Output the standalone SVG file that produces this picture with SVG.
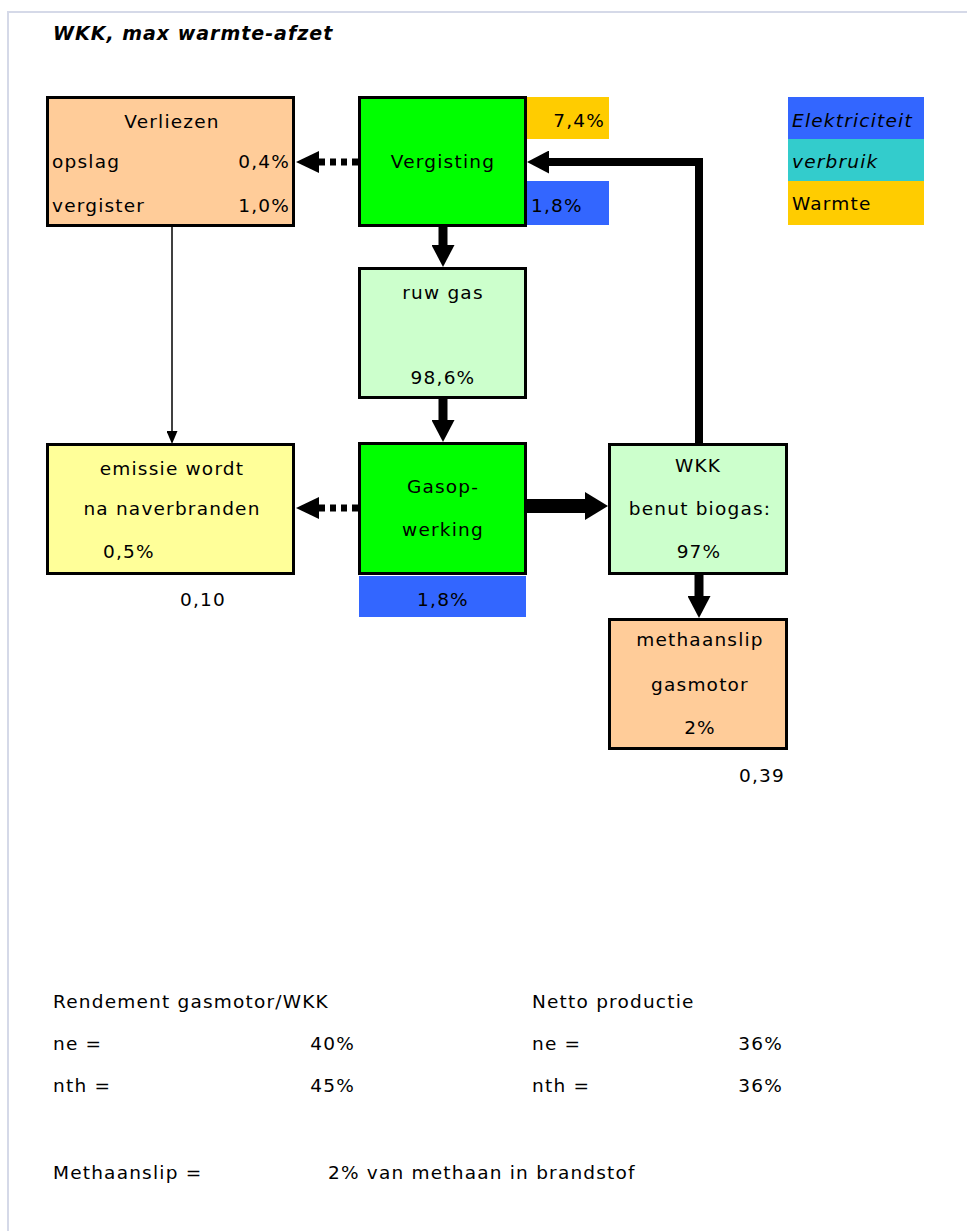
<svg xmlns="http://www.w3.org/2000/svg" width="967" height="1231" viewBox="0 0 967 1231">
<style>
  text { font-family: "DejaVu Sans", "Liberation Sans", sans-serif; font-size: 18.5px; fill: #000; letter-spacing: 1.2px; }
  .c { text-anchor: middle; }
  .r { text-anchor: end; }
  .i { font-style: italic; }
  .title { font-weight: bold; font-style: italic; font-size: 19px; letter-spacing: 1px; }
  .box { stroke: #000; stroke-width: 3; }
  .peach { fill: #FFCC99; }
  .green { fill: #00FF00; }
  .lgreen { fill: #CCFFCC; }
  .yellow { fill: #FFFF99; }
  .orange { fill: #FFCC00; }
  .blue { fill: #3366FF; }
  .teal { fill: #33CCCC; }
  .arrow { fill: none; stroke: #000; stroke-linejoin: miter; }
  .dot { stroke-width: 7; stroke-dasharray: 6 5; }
</style>
<defs>
  <marker id="ahM" markerUnits="userSpaceOnUse" markerWidth="22" markerHeight="23" viewBox="0 0 22 23" refX="0" refY="11.5" orient="auto">
    <path d="M0,0 L22,11.5 L0,23 z" fill="#000"/>
  </marker>
  <marker id="ahD" markerUnits="userSpaceOnUse" markerWidth="23" markerHeight="22" viewBox="0 0 23 22" refX="0" refY="11" orient="auto">
    <path d="M0,0 L23,11 L0,22 z" fill="#000"/>
  </marker>
  <marker id="ahL" markerUnits="userSpaceOnUse" markerWidth="23" markerHeight="28" viewBox="0 0 23 28" refX="0" refY="14" orient="auto">
    <path d="M0,0 L23,14 L0,28 z" fill="#000"/>
  </marker>
  <marker id="ahS" markerUnits="userSpaceOnUse" markerWidth="13" markerHeight="11" viewBox="0 0 13 11" refX="0" refY="5.5" orient="auto">
    <path d="M0,0 L13,5.5 L0,11 z" fill="#000"/>
  </marker>
</defs>

<g id="frame">
  <path d="M8,1231 V12 H967" fill="none" stroke="#D5D9E8" stroke-width="2"/>
</g>

<text id="title" class="title" x="53" y="40">WKK, max warmte-afzet</text>

<g id="connectors">
  <path class="arrow dot" d="M358,162 H319" marker-end="url(#ahD)"/>
  <path class="arrow dot" d="M358,508 H319" marker-end="url(#ahD)"/>
  <path class="arrow" stroke-width="9" d="M443,227 V245" marker-end="url(#ahM)"/>
  <path class="arrow" stroke-width="9" d="M443,399 V420" marker-end="url(#ahM)"/>
  <path class="arrow" stroke-width="9" d="M699,575 V596" marker-end="url(#ahM)"/>
  <path class="arrow" stroke-width="8" d="M699,443 V162 H549" marker-end="url(#ahM)"/>
  <path class="arrow" stroke-width="14" d="M527,506 H585" marker-end="url(#ahL)"/>
  <path class="arrow" stroke-width="1.5" d="M172,227 V431" marker-end="url(#ahS)"/>
</g>

<g id="verliezen">
  <rect class="box peach" x="47.5" y="97.5" width="246" height="128"/>
  <text class="c" x="172" y="128">Verliezen</text>
  <text x="52" y="168">opslag</text>
  <text class="r" x="290" y="168">0,4%</text>
  <text x="52" y="212">vergister</text>
  <text class="r" x="290" y="212">1,0%</text>
</g>

<g id="vergisting">
  <rect class="box green" x="359.5" y="97.5" width="166" height="128"/>
  <text class="c" x="443" y="168">Vergisting</text>
</g>

<g id="vergisting-warmte">
  <rect class="orange" x="527" y="97" width="82" height="42"/>
  <text class="r" x="605" y="127">7,4%</text>
</g>

<g id="vergisting-elektriciteit">
  <rect class="blue" x="527" y="181" width="82" height="44"/>
  <text x="531" y="212">1,8%</text>
</g>

<g id="legend">
  <rect class="blue" x="788" y="97" width="136" height="42"/>
  <text class="i" x="792" y="127" letter-spacing="0.6">Elektriciteit</text>
  <rect class="teal" x="788" y="139" width="136" height="42"/>
  <text class="i" x="792" y="168">verbruik</text>
  <rect class="orange" x="788" y="181" width="136" height="44"/>
  <text x="792" y="210">Warmte</text>
</g>

<g id="ruwgas">
  <rect class="box lgreen" x="359.5" y="268.5" width="166" height="129"/>
  <text class="c" x="443" y="299">ruw gas</text>
  <text class="c" x="443" y="384">98,6%</text>
</g>

<g id="emissie">
  <rect class="box yellow" x="47.5" y="444.5" width="246" height="129"/>
  <text class="c" x="172" y="475">emissie wordt</text>
  <text class="c" x="172" y="515">na naverbranden</text>
  <text x="103" y="558">0,5%</text>
  <text class="r" x="226" y="606">0,10</text>
</g>

<g id="gasopwerking">
  <rect class="box green" x="359.5" y="443.5" width="166" height="130"/>
  <text class="c" x="443" y="493">Gasop-</text>
  <text class="c" x="443" y="536">werking</text>
</g>

<g id="gasopwerking-elektriciteit">
  <rect class="blue" x="359" y="576" width="167" height="41"/>
  <text class="c" x="443" y="606">1,8%</text>
</g>

<g id="wkk">
  <rect class="box lgreen" x="609.5" y="444.5" width="177" height="129"/>
  <text class="c" x="698" y="472">WKK</text>
  <text class="c" x="700" y="515">benut biogas:</text>
  <text class="c" x="699" y="558">97%</text>
</g>

<g id="methaanslip">
  <rect class="box peach" x="609.5" y="619.5" width="177" height="129"/>
  <text class="c" x="700" y="646">methaanslip</text>
  <text class="c" x="700" y="691">gasmotor</text>
  <text class="c" x="700" y="734">2%</text>
  <text class="r" x="785" y="782">0,39</text>
</g>

<g id="notes">
  <text x="53" y="1008">Rendement gasmotor/WKK</text>
  <text x="53" y="1050">ne =</text>
  <text class="r" x="355" y="1050">40%</text>
  <text x="53" y="1092">nth =</text>
  <text class="r" x="355" y="1092">45%</text>
  <text x="532" y="1008">Netto productie</text>
  <text x="532" y="1050">ne =</text>
  <text class="r" x="783" y="1050">36%</text>
  <text x="532" y="1092">nth =</text>
  <text class="r" x="783" y="1092">36%</text>
  <text x="53" y="1179">Methaanslip =</text>
  <text x="328" y="1179">2% van methaan in brandstof</text>
</g>
</svg>
